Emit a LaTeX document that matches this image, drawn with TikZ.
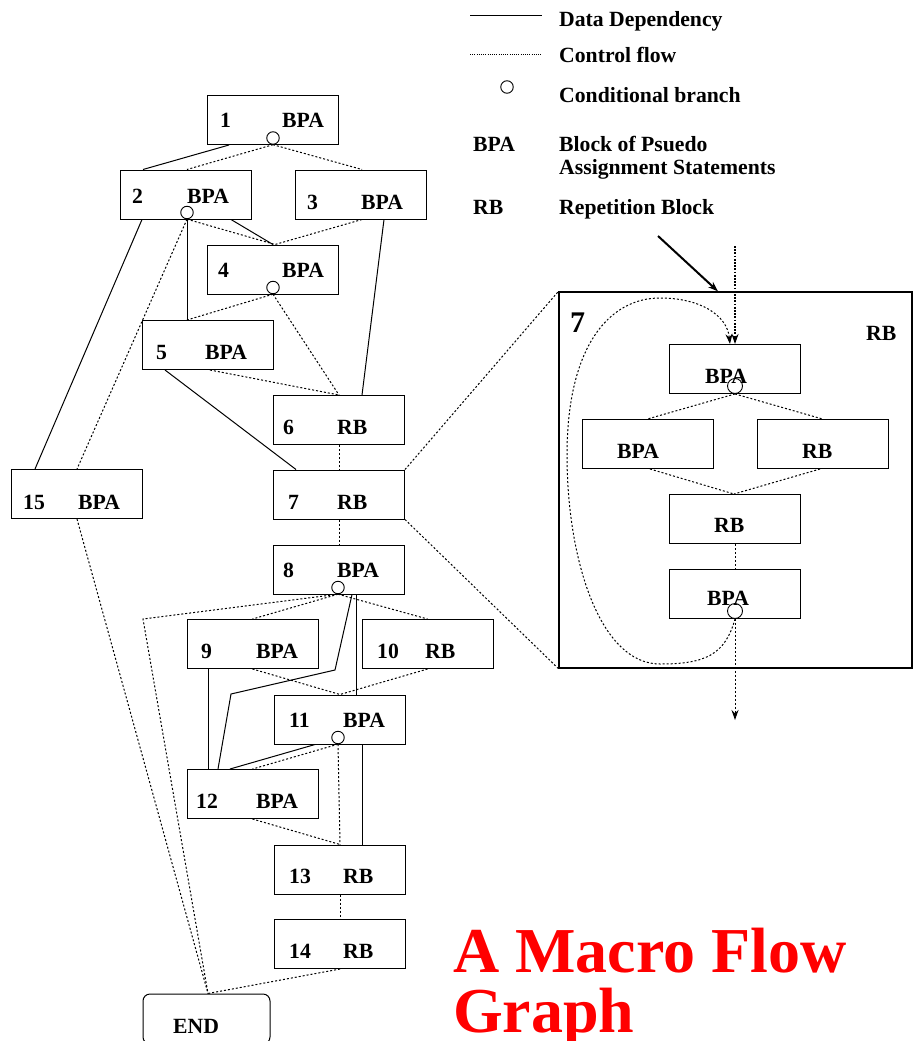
\documentclass[tikz,border=0pt]{standalone}
\usepackage{fontspec}
\setmainfont{Liberation Serif}
\usetikzlibrary{arrows.meta}
\begin{document}
\begin{tikzpicture}[x=1pt,y=-1pt,
  box/.style={draw, line width=1pt, minimum width=131pt, minimum height=49pt, inner sep=0pt},
  endbox/.style={draw, line width=1pt, rounded corners=7pt, minimum width=127pt, minimum height=50pt, inner sep=0pt},
  bigbox/.style={draw, line width=1.2pt, minimum width=353pt, minimum height=376pt, inner sep=0pt},
  cond/.style={draw, circle, line width=0.9pt, fill=white, minimum size=12.5pt, inner sep=0pt},
  econd/.style={draw, circle, line width=0.9pt, minimum size=15pt, inner sep=0pt},
  txt/.style={anchor=base west, inner sep=0pt, font=\fontsize{21.7}{25}\selectfont\bfseries},
  data/.style={line width=1pt},
  ctrl/.style={line width=1pt, dash pattern=on 2pt off 2pt},
  tip/.style={-{Stealth[length=10pt,width=7pt]}}]
\useasboundingbox (0,0) rectangle (917,1041);
\clip (0,0) rectangle (917,1041);

% ---- legend ----
\coordinate (ls1) at (470,16);  \coordinate (ls2) at (542,16);
\coordinate (ld1) at (470,54);  \coordinate (ld2) at (542,54);
\draw[data] (ls1) -- (ls2);
\draw[line width=0.8pt, dash pattern=on 1pt off 1.2pt] (ld1) -- (ld2);
\node[cond] (lc) at (507,87) {};
\node[txt] (lt1) at (559,27)  {Data Dependency};
\node[txt] (lt2) at (559,63)  {Control flow};
\node[txt] (lt3) at (559,102) {Conditional branch};
\node[txt] (lt4) at (473,151) {BPA};
\node[txt] (lt5) at (559,151) {Block of Psuedo};
\node[txt] (lt6) at (559,174) {Assignment Statements};
\node[txt] (lt7) at (473,214) {RB};
\node[txt] (lt8) at (559,214) {Repetition Block};

% ---- blocks of the flow graph ----
\node[box] (b1)  at (273,120)   {};
\node[box] (b2)  at (185.5,194.5) {};
\node[box] (b3)  at (361,194.5) {};
\node[box] (b4)  at (273,269.5) {};
\node[box] (b5)  at (207.5,345) {};
\node[box] (b6)  at (339,420)   {};
\node[box] (b7)  at (339,494.5) {};
\node[box] (b15) at (77,494)    {};
\node[box] (b8)  at (339,569.5) {};
\node[box] (b9)  at (252.5,644) {};
\node[box] (b10) at (427.5,644) {};
\node[box] (b11) at (340,719.5) {};
\node[box] (b12) at (252.5,794) {};
\node[box] (b13) at (340,869.5) {};
\node[box] (b14) at (340,944)   {};
\node[endbox] (bend) at (206.5,1019) {};

% block labels
\node[txt] (n1)  at (220,127) {1};   \node[txt] (t1)  at (282,127) {BPA};
\node[txt] (n2)  at (132,203) {2};   \node[txt] (t2)  at (187,203) {BPA};
\node[txt] (n3)  at (307,209) {3};   \node[txt] (t3)  at (361,209) {BPA};
\node[txt] (n4)  at (218,277) {4};   \node[txt] (t4)  at (282,277) {BPA};
\node[txt] (n5)  at (156,359) {5};   \node[txt] (t5)  at (205,359) {BPA};
\node[txt] (n6)  at (283,434) {6};   \node[txt] (t6)  at (337,434) {RB};
\node[txt] (n7)  at (288,509) {7};   \node[txt] (t7)  at (337,509) {RB};
\node[txt] (n15) at (23,509)  {15};  \node[txt] (t15) at (78,509)  {BPA};
\node[txt] (n8)  at (283,577) {8};   \node[txt] (t8)  at (337,577) {BPA};
\node[txt] (n9)  at (201,658) {9};   \node[txt] (t9)  at (256,658) {BPA};
\node[txt] (n10) at (377,658) {10};  \node[txt] (t10) at (425,658) {RB};
\node[txt] (n11) at (289,727) {11};  \node[txt] (t11) at (343,727) {BPA};
\node[txt] (n12) at (196,808) {12};  \node[txt] (t12) at (256,808) {BPA};
\node[txt] (n13) at (289,883) {13};  \node[txt] (t13) at (343,883) {RB};
\node[txt] (n14) at (289,958) {14};  \node[txt] (t14) at (343,958) {RB};
\node[txt] (tend) at (173,1033) {END};

% conditional branches
\node[cond] (c1)  at (273,138)   {};
\node[cond] (c2)  at (187,212.5) {};
\node[cond] (c4)  at (273,287.5) {};
\node[cond] (c8)  at (338,587.5) {};
\node[cond] (c11) at (338,737.5) {};

% ---- data dependencies ----
\draw[data] ([xshift=-44pt]b1.south) -- ([xshift=-42.5pt]b2.north);
\draw[data] ([xshift=45.5pt]b2.south) -- (b4.north);
\draw[data] ([xshift=-43.5pt]b2.south) -- ([xshift=-42pt]b15.north);
\draw[data] (c2.south) -- (c2.south |- b5.north);
\draw[data] ([xshift=23pt]b3.south) -- ([xshift=23pt]b6.north);
\draw[data] ([xshift=-42.5pt]b5.south) -- ([xshift=-43pt]b7.north);
\draw[data] ([xshift=17pt]b8.south) -- ([xshift=16pt]b11.north);
\coordinate (k1) at (335,670);
\coordinate (k2) at (231,694);
\draw[data] ([xshift=13pt]b8.south) -- (k1) -- (k2) -- ([xshift=-34.5pt]b12.north);
\draw[data] ([xshift=-44.5pt]b9.south) -- ([xshift=-44.5pt]b12.north);
\draw[data] ([xshift=-25pt]b11.south) -- ([xshift=-22.5pt]b12.north);
\draw[data] ([xshift=22pt]b11.south) -- ([xshift=22pt]b13.north);

% ---- control flow ----
\draw[ctrl] (c1.south) -- ([xshift=1.5pt]b2.north);
\draw[ctrl] (c1.south) -- ([xshift=1pt]b3.north);
\draw[ctrl] (c2.south) -- ([xshift=2pt]b4.north);
\draw[ctrl] ([xshift=1pt]b3.south) -- ([xshift=2pt]b4.north);
\draw[ctrl] (c2.south) -- (b15.north);
\draw[ctrl] (c4.south) -- ([xshift=-20.5pt]b5.north);
\draw[ctrl] (c4.south) -- (b6.north);
\draw[ctrl] ([xshift=2.5pt]b5.south) -- (b6.north);
\draw[ctrl] (b6.south) -- (b7.north);
\draw[ctrl] (b7.south) -- (b8.north);
\draw[ctrl] (c8.south) -- (b9.north);
\draw[ctrl] (c8.south) -- (b10.north);
\coordinate (k3) at (143,619);
\draw[ctrl] (c8.south) -- (k3) -- ([xshift=1.5pt]bend.north);
\draw[ctrl] (b9.south) -- (b11.north);
\draw[ctrl] (b10.south) -- (b11.north);
\draw[ctrl] (c11.south) -- (b12.north);
\draw[ctrl] (c11.south) -- (b13.north);
\draw[ctrl] (b12.south) -- (b13.north);
\draw[ctrl] (b13.south) -- (b14.north);
\draw[ctrl] (b14.south) -- ([xshift=1.5pt]bend.north);
\draw[ctrl] (b15.south) -- ([xshift=1.5pt]bend.north);

% ---- block 7 expanded ----
\node[bigbox] (big) at (735.5,480) {};
\node[anchor=base west, inner sep=0pt, font=\fontsize{30}{34}\selectfont\bfseries] (bign) at (570,332) {7};
\node[txt] (bigt) at (866,340) {RB};

\node[box] (e1) at (735,369) {};
\node[box] (e2) at (647.5,444) {};
\node[box] (e3) at (822.5,444) {};
\node[box] (e4) at (735,519) {};
\node[box] (e5) at (735,594) {};
\node[txt] (et1) at (705,383) {BPA};
\node[txt] (et2) at (617,458) {BPA};
\node[txt] (et3) at (802,458) {RB};
\node[txt] (et4) at (714,532) {RB};
\node[txt] (et5) at (707,605) {BPA};
\node[econd] (ec1) at (735,386) {};
\node[econd] (ec5) at (735,611) {};

\draw[ctrl] (ec1.south) -- (e2.north);
\draw[ctrl] (ec1.south) -- (e3.north);
\draw[ctrl] ([xshift=2.5pt]e2.south) -- ([xshift=-1pt]e4.north);
\draw[ctrl] ([xshift=-2.5pt]e3.south) -- ([xshift=-1pt]e4.north);
\draw[ctrl] (e4.south) -- (e5.north);
\coordinate (eout) at (735,720);
\draw[ctrl, tip] (ec5.south) -- (eout);
% repetition loop back to the first block
\draw[ctrl, tip] (ec5.south) .. controls (725,655) and (705,664) .. (660,664)
  .. controls (600,664) and (567,560) .. (567,455)
  .. controls (567,345) and (610,298) .. (660,298)
  .. controls (700,298) and (727,315) .. ([xshift=-5pt]e1.north);
% entry into the expanded block
\coordinate (ein) at (735,246);
\draw[line width=2pt, dash pattern=on 1.8pt off 1.4pt, tip] (ein) -- (e1.north);
\coordinate (pin) at (658,236);
\draw[line width=2pt, tip] (pin) -- ([xshift=-17.5pt]big.north);

% zoom lines from block 7
\draw[ctrl] (b7.north east) -- (big.north west);
\draw[ctrl] (b7.south east) -- (big.south west);

% ---- title ----
\node[anchor=base west, inner sep=0pt, text=red, font=\fontsize{64}{60}\selectfont\bfseries] (ttl1) at (453,972) {A Macro Flow};
\node[anchor=base west, inner sep=0pt, text=red, font=\fontsize{64}{60}\selectfont\bfseries] (ttl2) at (453,1032) {Graph};
\end{tikzpicture}
\end{document}
